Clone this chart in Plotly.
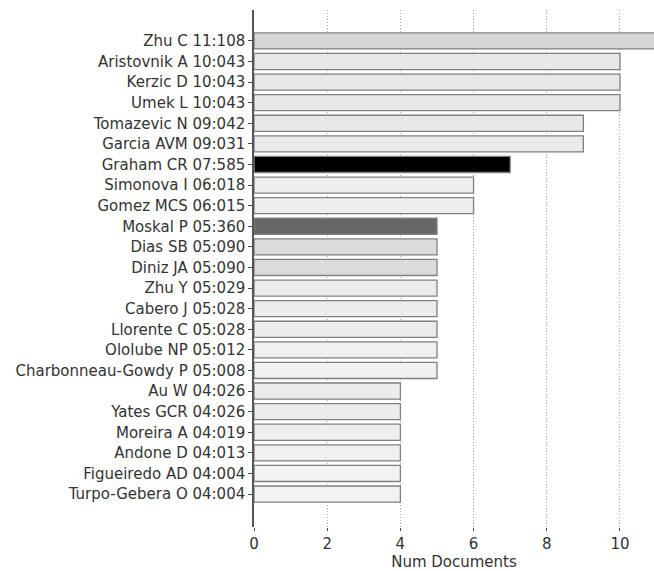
import plotly.graph_objects as go

authors = ["Zhu C", "Aristovnik A", "Kerzic D", "Umek L", "Tomazevic N", "Garcia AVM",
           "Graham CR", "Simonova I", "Gomez MCS", "Moskal P", "Dias SB", "Diniz JA",
           "Zhu Y", "Cabero J", "Llorente C", "Ololube NP", "Charbonneau-Gowdy P",
           "Au W", "Yates GCR", "Moreira A", "Andone D", "Figueiredo AD", "Turpo-Gebera O"]
num_documents = [11, 10, 10, 10, 9, 9, 7, 6, 6, 5, 5, 5, 5, 5, 5, 5, 5, 4, 4, 4, 4, 4, 4]
citations = [108, 43, 43, 43, 42, 31, 585, 18, 15, 360, 90, 90, 29, 28, 28, 12, 8,
             26, 26, 19, 13, 4, 4]

labels = [f"{a} {d:02d}:{c:03d}" for a, d, c in zip(authors, num_documents, citations)]
x_ticks = [0, 2, 4, 6, 8, 10]

fig = go.Figure()
fig.add_trace(go.Bar(
    x=num_documents,
    y=labels,
    orientation="h",
    width=0.78,
    marker=dict(
        color=citations,
        cmin=0, cmax=585,
        colorscale=[[0, "rgb(243,243,243)"], [0.075, "rgb(232,232,232)"],
                    [0.185, "rgb(214,214,214)"], [0.62, "rgb(102,102,102)"],
                    [1, "rgb(0,0,0)"]],
        line=dict(color="rgb(128,128,128)", width=1.3),
    ),
    showlegend=False,
))

fig.update_layout(
    width=654, height=571,
    margin=dict(l=254, r=0, t=10, b=44, autoexpand=False),
    paper_bgcolor="white", plot_bgcolor="white",
    font=dict(family="DejaVu Sans", size=15, color="#333333"),
    xaxis=dict(
        range=[0, 10.93],
        tickvals=x_ticks,
        showgrid=True, gridcolor="#a8a8a8", griddash="1px,2px", gridwidth=1,
        zeroline=False, showline=False,
        ticks="outside", ticklen=3, tickcolor="#444", tickwidth=1,
        title=dict(text="Num Documents", standoff=0, font=dict(size=15)),
        tickfont=dict(size=15),
    ),
    yaxis=dict(
        type="category",
        categoryorder="array", categoryarray=labels,
        range=[len(labels) - 1 + 1.6, -1.5],
        showgrid=False, zeroline=False,
        showline=True, linecolor="#555", linewidth=1.5,
        ticks="outside", ticklen=4, tickcolor="#444", tickwidth=1,
        tickfont=dict(size=15),
    ),
)

fig.write_html(
    "out.html",
    config={"displayModeBar": False},
    post_script="document.body.style.margin='0';document.body.style.overflow='hidden';",
)
